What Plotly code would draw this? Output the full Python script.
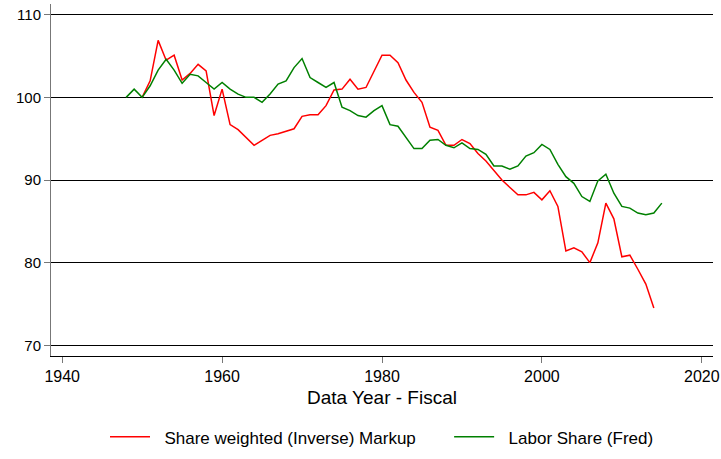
import plotly.graph_objects as go

# Labor share (FRED), index 1948 = 100
labor_years = list(range(1948, 2016))
labor_share = [
    100.0, 101.0, 100.0, 101.4, 103.3, 104.6, 103.3, 101.7, 102.8, 102.6,
    101.8, 101.0, 101.8, 101.0, 100.4, 100.0, 100.0, 99.4, 100.4, 101.6,
    102.0, 103.6, 104.7, 102.4, 101.8, 101.2, 101.8, 98.8, 98.4, 97.8,
    97.6, 98.4, 99.0, 96.7, 96.5, 95.2, 93.8, 93.8, 94.8, 94.9,
    94.2, 93.9, 94.5, 93.8, 93.7, 93.1, 91.7, 91.7, 91.3, 91.7,
    92.9, 93.3, 94.3, 93.7, 91.9, 90.4, 89.6, 88.0, 87.4, 89.9,
    90.7, 88.4, 86.8, 86.6, 86.0, 85.8, 86.0, 87.2,
]

# Share weighted (inverse) markup, index 1950 = 100
markup_years = list(range(1950, 2015))
inv_markup = [
    100.0, 102.0, 106.9, 104.5, 105.1, 102.1, 102.9, 104.0, 103.2, 97.8,
    101.0, 96.7, 96.1, 95.2, 94.2, 94.8, 95.4, 95.6, 95.9, 96.2,
    97.7, 97.9, 97.9, 99.0, 100.9, 101.0, 102.2, 101.0, 101.2, 103.2,
    105.1, 105.1, 104.2, 102.1, 100.6, 99.4, 96.4, 96.0, 94.2, 94.2,
    94.9, 94.4, 93.2, 92.3, 91.2, 90.0, 89.1, 88.2, 88.2, 88.5,
    87.6, 88.7, 86.8, 81.4, 81.8, 81.3, 80.0, 82.4, 87.2, 85.3,
    80.7, 80.9, 79.2, 77.4, 74.5,
]

y_ticks = [70, 80, 90, 100, 110]
x_ticks = [1940, 1960, 1980, 2000, 2020]

# non-breaking spaces widen the gaps between legend sample and text
NB = "\u00a0"

fig = go.Figure()

fig.add_trace(
    go.Scatter(
        x=markup_years,
        y=inv_markup,
        mode="lines",
        name=NB * 2 + "Share weighted (Inverse) Markup" + NB * 6,
        line=dict(color="#ff0000", width=1.5),
    )
)

fig.add_trace(
    go.Scatter(
        x=labor_years,
        y=labor_share,
        mode="lines",
        name=NB * 2 + "Labor Share (Fred)",
        line=dict(color="#008000", width=1.5),
    )
)

fig.update_layout(
    width=721,
    height=459,
    margin=dict(l=51, r=8, t=4, b=99),
    paper_bgcolor="white",
    plot_bgcolor="white",
    font=dict(family="Liberation Sans, Arial, sans-serif", size=16, color="black"),
    showlegend=True,
    legend=dict(
        orientation="h",
        x=0.5,
        xanchor="center",
        y=-0.231,
        yanchor="middle",
        font=dict(size=17),
        itemwidth=40,
        tracegroupgap=0,
    ),
)

fig.update_xaxes(
    range=[1938.6, 2021.4],
    tickvals=x_ticks,
    ticks="outside",
    ticklen=6,
    tickcolor="#777777",
    tickfont=dict(size=16),
    showgrid=False,
    zeroline=False,
    showline=True,
    linecolor="black",
    linewidth=1,
    automargin=False,
    title=dict(text="Data Year - Fiscal", font=dict(size=19), standoff=6),
)

fig.update_yaxes(
    range=[68.7, 111.3],
    tickvals=y_ticks,
    ticks="outside",
    ticklen=6,
    tickcolor="#777777",
    tickfont=dict(size=15),
    showgrid=True,
    gridcolor="black",
    gridwidth=1,
    zeroline=False,
    showline=True,
    linecolor="#777777",
    linewidth=1,
    automargin=False,
)

# drop the browser's default body margin so the figure sits at the page corner
fig.write_html(
    "out.html",
    config={"displayModeBar": False},
    post_script="document.body.style.margin='0';",
)
